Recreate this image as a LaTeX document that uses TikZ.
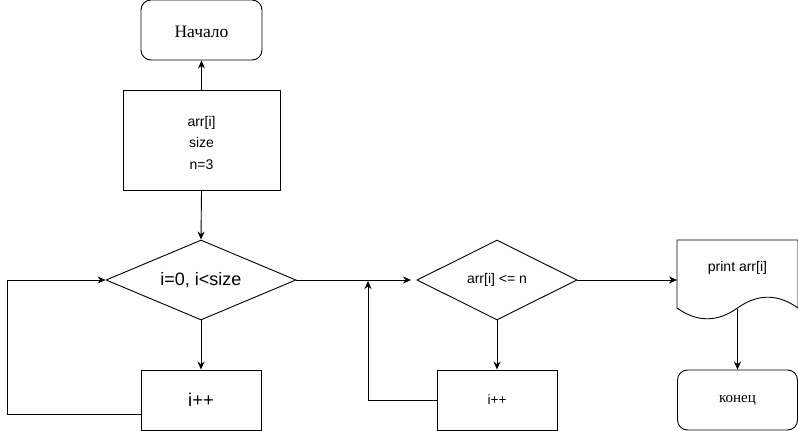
\documentclass[tikz,border=0pt]{standalone}
\usepackage{fontspec}
\setmainfont{Liberation Sans}
\newfontfamily\serifcyr{Liberation Serif}
\usetikzlibrary{shapes.geometric,arrows.meta}
\tikzset{
  ln/.style={line width=0.9pt},
  arr/.style={ln,-{Stealth[length=8pt,width=7pt]}},
  term/.style={draw,ln,rounded corners=10pt,inner sep=0pt,font=\serifcyr},
  proc/.style={draw,ln,inner sep=0pt,align=center},
  dec/.style={draw,ln,shape=diamond,inner sep=0pt,aspect=2.375,minimum width=190pt,minimum height=80pt}
}
\begin{document}
\begin{tikzpicture}[x=1pt,y=-1pt]
\useasboundingbox (0,0) rectangle (798,431);
\node[term,minimum width=121pt,minimum height=60pt,font=\serifcyr\fontsize{17.5}{20}\selectfont] (start) at (201.5,30) {\raisebox{-2pt}[\height][\depth]{Начало}};
\node[proc,minimum width=157pt,minimum height=100pt,font=\fontsize{14}{21.5}\selectfont] (vars) at (201.5,140) {\raisebox{-3.5pt}[\height][\depth]{\begin{tabular}{@{}c@{}}arr[i]\\size\\n=3\end{tabular}}};
\node[dec,font=\fontsize{18}{21}\selectfont] (cond1) at (201,280) {i=0, i<size};
\node[proc,minimum width=120pt,minimum height=60pt,font=\fontsize{18.5}{21}\selectfont] (inc1) at (201,400) {i++};
\node[dec,aspect=2,minimum width=160pt,font=\fontsize{14}{16}\selectfont] (cond2) at (497,280) {arr[i] <= n};
\node[proc,minimum width=120pt,minimum height=60pt,font=\fontsize{13.5}{16}\selectfont] (inc2) at (497,400) {i++};
\node[term,minimum width=120pt,minimum height=60pt,font=\serifcyr\fontsize{15}{17}\selectfont] (fin) at (737.5,400) {конец};
% document shape
\coordinate (out) at (677,280);
\draw[ln] (677,240) -- (798,240) -- (798,308)
  .. controls (777.8,293.6) and (757.7,293.6) .. (737.5,308)
  .. controls (717.3,322.4) and (697.2,322.4) .. (677,308) -- cycle;
\node[font=\fontsize{14}{16}\selectfont] (outtext) at (737.5,268) {print arr[i]};
\coordinate (outb) at (737.5,309);
% connectors
\draw[arr] (vars.north) -- (start.south);
\draw[arr] (vars.south) -- (cond1.north);
\draw[arr] (cond1.south) -- (inc1.north);
\coordinate (l1) at (7,414);
\draw[arr] (inc1.west |- l1) -- (l1) |- (cond1.west);
\coordinate (m) at (411,280);
\draw[arr] (cond1.east) -- (m);
\draw[arr] (cond2.south) -- (inc2.north);
\coordinate (l2) at (368,400);
\coordinate (l2e) at (368,280);
\draw[arr] (inc2.west) -- (l2) -- ([yshift=-1pt]l2e);
\draw[arr] (cond2.east) -- (out);
\draw[arr] (outb) -- (fin.north);
\end{tikzpicture}
\end{document}
